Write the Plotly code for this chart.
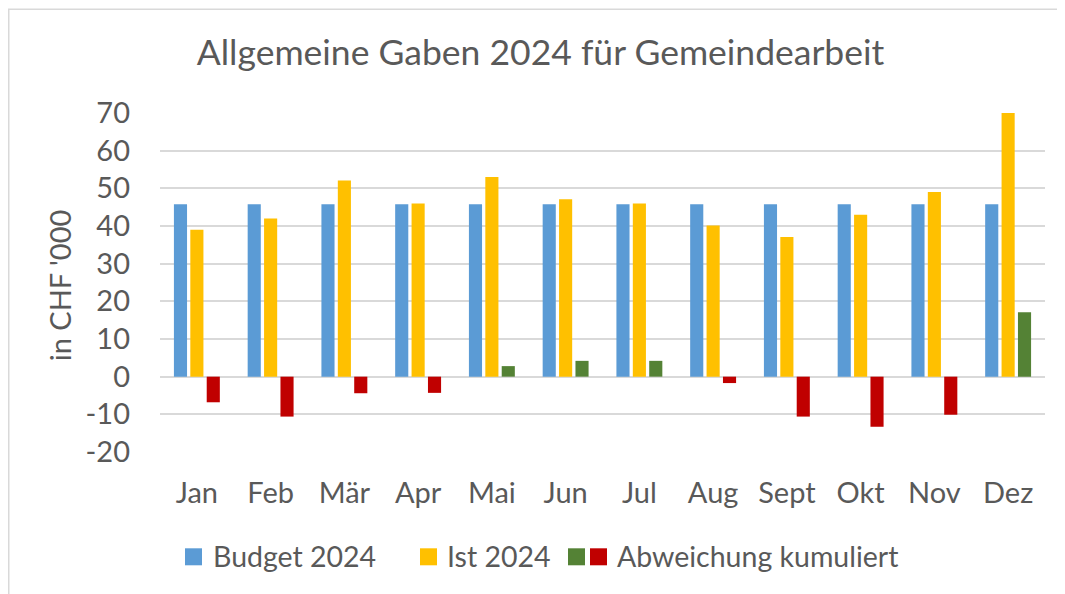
import plotly.graph_objects as go

months = ["Jan", "Feb", "Mär", "Apr", "Mai", "Jun", "Jul", "Aug", "Sept", "Okt", "Nov", "Dez"]
budget_2024 = [45.8] * 12
ist_2024 = [39.0, 42.0, 52.1, 46.0, 53.0, 47.1, 46.0, 40.1, 37.1, 43.0, 49.0, 70.1]
abweichung_kum = [-6.8, -10.6, -4.4, -4.3, 2.8, 4.2, 4.2, -1.7, -10.6, -13.3, -10.1, 17.1]
y_ticks = [-20, -10, 0, 10, 20, 30, 40, 50, 60, 70]
y_tick_labels = ["-20", "-10", "0", "10", "20", "30", "40", "50", "60", "70"]

BLUE = "#5B9BD5"
YELLOW = "#FFC000"
GREEN = "#548235"
RED = "#C00000"
TXT = "#595959"
FONT = "Lato"

W, H = 1065, 594
L, R, T, B = 152, 28, 104.7, 150.3
PW, PH = W - L - R, H - T - B

def px(x):
    return (x - L) / PW

def py(y):
    return (H - B - y) / PH

fig = go.Figure()
fig.add_trace(go.Bar(x=months, y=budget_2024, name="Budget 2024",
                     marker=dict(color=BLUE, line=dict(width=0)), showlegend=False))
fig.add_trace(go.Bar(x=months, y=ist_2024, name="Ist 2024",
                     marker=dict(color=YELLOW, line=dict(width=0)), showlegend=False))
fig.add_trace(go.Bar(x=months, y=abweichung_kum, name="Abweichung kumuliert",
                     marker=dict(color=[GREEN if v >= 0 else RED for v in abweichung_kum],
                                 line=dict(width=0)), showlegend=False))

shapes = []
annotations = []
# chart border (left & top visible)
shapes.append(dict(type="rect", xref="paper", yref="paper",
                   x0=px(0.75), x1=px(1080), y0=py(610), y1=py(1.0),
                   line=dict(color="#D9D9D9", width=1.5), fillcolor="rgba(0,0,0,0)", layer="below"))

# custom legend
LEG_Y = 548
legend_items = [
    ([(177, BLUE)], 203, "Budget 2024"),
    ([(412, YELLOW)], 437, "Ist 2024"),
    ([(560, GREEN), (582, RED)], 607, "Abweichung kumuliert"),
]
for squares, tx, label in legend_items:
    for sx, col in squares:
        shapes.append(dict(type="rect", xref="paper", yref="paper",
                           x0=px(sx), x1=px(sx + 17), y0=py(LEG_Y + 9), y1=py(LEG_Y - 8),
                           line=dict(width=0), fillcolor=col))
    annotations.append(dict(text=label, xref="paper", yref="paper", x=px(tx), y=py(LEG_Y),
                            xanchor="left", yanchor="middle", showarrow=False,
                            font=dict(family=FONT, size=28.5, color=TXT)))

# y axis title
annotations.append(dict(text="in CHF '000", xref="paper", yref="paper", x=px(51), y=py(277),
                        xanchor="center", yanchor="middle", textangle=-90, showarrow=False,
                        font=dict(family=FONT, size=29, color=TXT)))

fig.update_layout(
    width=W, height=H,
    margin=dict(l=L, r=R, t=T, b=B),
    paper_bgcolor="white", plot_bgcolor="white",
    barmode="group", bargap=0.333, bargroupgap=0.2,
    title=dict(text="Allgemeine Gaben 2024 für Gemeindearbeit",
               x=0.5, xref="container", xanchor="center", y=1 - 45 / H, yanchor="middle",
               font=dict(family=FONT, size=35.5, color=TXT)),
    font=dict(family=FONT, color=TXT),
    shapes=shapes, annotations=annotations,
    xaxis=dict(showgrid=False, showline=False, ticks="", tickfont=dict(size=29, color=TXT),
               ticklabelstandoff=21),
    yaxis=dict(range=[-20, 70], tickvals=y_ticks, ticktext=y_tick_labels,
               showgrid=True, gridcolor="#D9D9D9",
               gridwidth=1.5, zeroline=True, zerolinecolor="#D9D9D9", zerolinewidth=1.5,
               tickfont=dict(size=29, color=TXT), ticklabelstandoff=29),
)

fig.write_html("out.html")
